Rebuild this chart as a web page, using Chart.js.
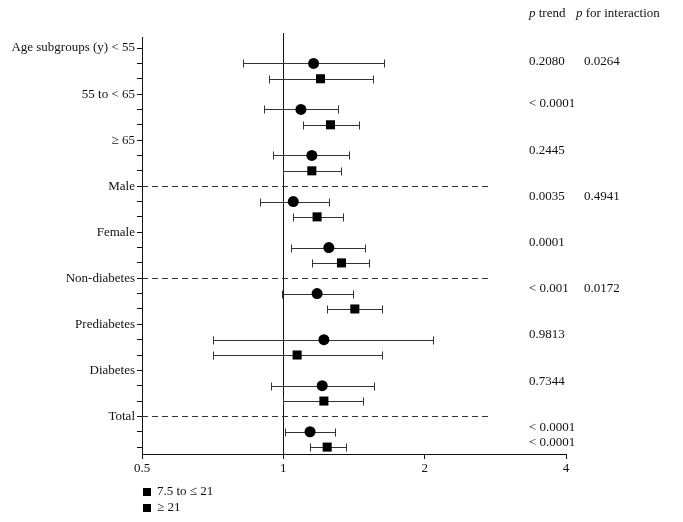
<!DOCTYPE html>
<html>
<head>
<meta charset="utf-8">
<script src="https://cdn.jsdelivr.net/npm/chart.js@4/dist/chart.umd.min.js"></script>
<style>
  html, body { margin: 0; padding: 0; background: #fff; }
  #wrap { width: 683px; height: 522px; }
</style>
</head>
<body>
<div id="wrap"><canvas id="forest" width="683" height="522"></canvas></div>
<script>
const groups = ["Age subgroups (y) < 55", "55 to < 65", "\u2265 65", "Male", "Female",
  "Non-diabetes", "Prediabetes", "Diabetes", "Total"];

// odds ratio and 95% CI, per group: first circle (7.5 to <= 21), then square (>= 21)
const midEst = [1.16, 1.09, 1.15, 1.05, 1.25, 1.18, 1.22, 1.21, 1.14];
const midLo  = [0.82, 0.91, 0.95, 0.89, 1.04, 0.995, 0.71, 0.94, 1.01];
const midHi  = [1.64, 1.31, 1.38, 1.25, 1.49, 1.41, 2.08, 1.56, 1.29];
const highEst = [1.20, 1.26, 1.15, 1.18, 1.33, 1.42, 1.07, 1.22, 1.24];
const highLo  = [0.93, 1.10, 1.00, 1.05, 1.15, 1.24, 0.71, 1.00, 1.14];
const highHi  = [1.55, 1.45, 1.33, 1.34, 1.52, 1.62, 1.62, 1.48, 1.36];

const seriesNames = ["7.5 to \u2264 21", "\u2265 21"];
const xTicks = [0.5, 1, 2, 4];

const pTrend = ["0.2080", "< 0.0001", "0.2445", "0.0035", "0.0001", "< 0.001", "0.9813", "0.7344", "< 0.0001", "< 0.0001"];
const pTrendRow = [0.85, 3.65, 6.7, 9.68, 12.66, 15.68, 18.68, 21.7, 24.71, 25.69];
const pInter = ["0.0264", "0.4941", "0.0172"];
const pInterRow = [0.85, 9.68, 15.68];
const dashedRows = [9, 15, 24];

const FONT = "'Liberation Serif', 'DejaVu Serif', serif";

function rowOf(g, k) { return g * 3 + 1 + k; }

const midPoints = midEst.map((v, i) => ({ x: v, y: rowOf(i, 0), lo: midLo[i], hi: midHi[i] }));
const highPoints = highEst.map((v, i) => ({ x: v, y: rowOf(i, 1), lo: highLo[i], hi: highHi[i] }));

const forestExtras = {
  id: "forestExtras",
  beforeDatasetsDraw(chart) {
    const ctx = chart.ctx;
    const xs = chart.scales.x, ys = chart.scales.y;
    const area = chart.chartArea;
    ctx.save();
    // reference line at 1
    ctx.strokeStyle = "#111";
    ctx.lineWidth = 1;
    const x1 = Math.round(xs.getPixelForValue(1)) + 0.5;
    ctx.beginPath();
    ctx.moveTo(x1, area.top - 4);
    ctx.lineTo(x1, area.bottom);
    ctx.stroke();
    // dashed separators
    ctx.setLineDash([6, 4]);
    ctx.strokeStyle = "#333";
    const xEnd = xs.getPixelForValue(2.75);
    dashedRows.forEach(r => {
      const y = Math.round(ys.getPixelForValue(r)) + 0.5;
      ctx.beginPath();
      ctx.moveTo(area.left, y);
      ctx.lineTo(xEnd, y);
      ctx.stroke();
    });
    ctx.setLineDash([]);
    // whiskers
    ctx.strokeStyle = "#333";
    chart.data.datasets.forEach(ds => {
      ds.data.forEach(p => {
        const y = Math.round(ys.getPixelForValue(p.y)) + 0.5;
        const a = Math.round(xs.getPixelForValue(p.lo)) + 0.5;
        const b = Math.round(xs.getPixelForValue(p.hi)) + 0.5;
        ctx.beginPath();
        ctx.moveTo(a, y); ctx.lineTo(b, y);
        ctx.moveTo(a, y - 4); ctx.lineTo(a, y + 4);
        ctx.moveTo(b, y - 4); ctx.lineTo(b, y + 4);
        ctx.stroke();
      });
    });
    ctx.restore();
  },
  afterDraw(chart) {
    const ctx = chart.ctx;
    const ys = chart.scales.y;
    const area = chart.chartArea;
    ctx.save();
    ctx.fillStyle = "#111";
    ctx.textBaseline = "middle";
    ctx.font = "13px " + FONT;
    const colA = 529, colB = 584;
    pTrend.forEach((t, i) => ctx.fillText(t, colA, ys.getPixelForValue(pTrendRow[i])));
    pInter.forEach((t, i) => ctx.fillText(t, colB, ys.getPixelForValue(pInterRow[i])));
    // header
    const hy = 14;
    ctx.font = "italic 13px " + FONT;
    ctx.fillText("p", colA, hy);
    let w = ctx.measureText("p ").width;
    ctx.font = "13px " + FONT;
    ctx.fillText("trend", colA + w, hy);
    ctx.font = "italic 13px " + FONT;
    ctx.fillText("p", 576, hy);
    w = ctx.measureText("p ").width;
    ctx.font = "13px " + FONT;
    ctx.fillText("for interaction", 576 + w, hy);
    // legend
    seriesNames.forEach((name, i) => {
      const y = area.bottom + 38 + i * 16;
      ctx.fillStyle = "#000";
      ctx.fillRect(area.left + 1, y - 4, 8, 8);
      ctx.fillStyle = "#111";
      ctx.fillText(name, area.left + 15, y);
    });
    ctx.restore();
  }
};

new Chart(document.getElementById("forest"), {
  type: "scatter",
  data: {
    datasets: [
      { label: seriesNames[0], data: midPoints, pointStyle: "circle", pointRadius: 5.5,
        backgroundColor: "#000", borderColor: "#000", borderWidth: 0 },
      { label: seriesNames[1], data: highPoints, pointStyle: "rect", pointRadius: 6.4,
        backgroundColor: "#000", borderColor: "#000", borderWidth: 0 }
    ]
  },
  options: {
    responsive: false,
    animation: false,
    layout: { padding: { top: 37, right: 117, bottom: 0, left: 0 } },
    plugins: { legend: { display: false }, tooltip: { enabled: false } },
    scales: {
      x: {
        type: "logarithmic",
        min: 0.5, max: 4,
        afterBuildTicks(scale) { scale.ticks = xTicks.map(v => ({ value: v })); },
        afterFit(scale) { scale.height = 68; },
        ticks: {
          color: "#111", font: { family: FONT, size: 13 }, padding: 2,
          callback: v => String(v)
        },
        grid: { drawOnChartArea: false, drawTicks: true, tickLength: 5, color: "#111" },
        border: { color: "#111", width: 1 }
      },
      y: {
        type: "linear",
        reverse: true,
        min: -0.72, max: 26.45,
        afterBuildTicks(scale) {
          const t = [];
          for (let i = 0; i <= 26; i++) t.push({ value: i });
          scale.ticks = t;
        },
        afterFit(scale) { scale.width = 142; },
        ticks: {
          autoSkip: false, color: "#111", font: { family: FONT, size: 13 }, padding: 2,
          callback: v => (v % 3 === 0 ? groups[v / 3] : "")
        },
        grid: { drawOnChartArea: false, drawTicks: true, tickLength: 5, color: "#111" },
        border: { color: "#111", width: 1 }
      }
    }
  },
  plugins: [forestExtras]
});
</script>
</body>
</html>
